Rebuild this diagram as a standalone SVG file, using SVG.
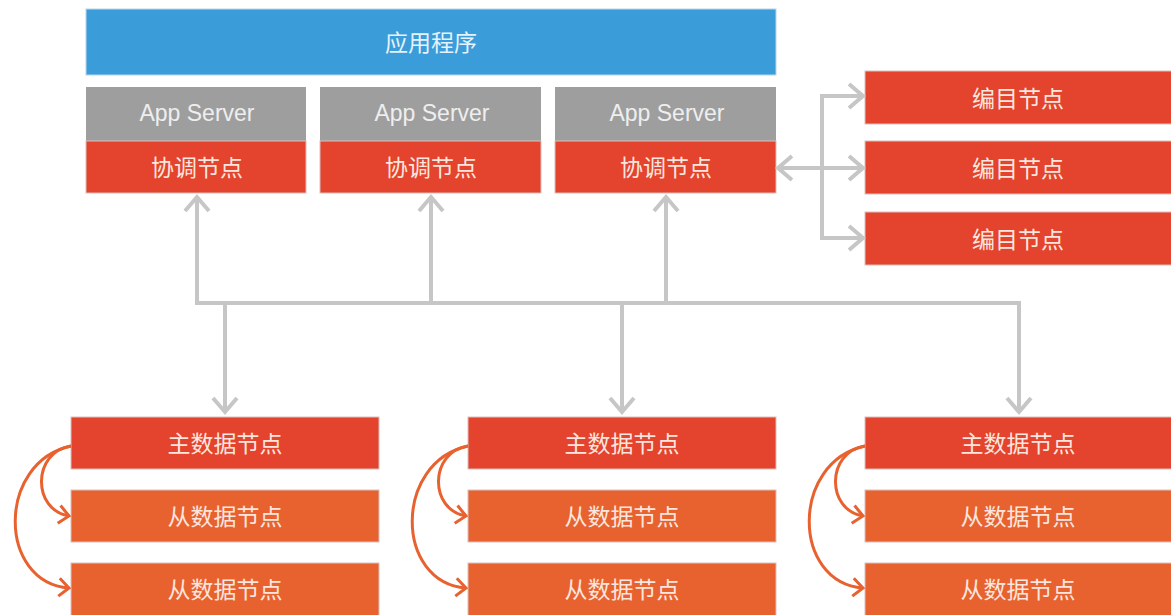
<svg xmlns="http://www.w3.org/2000/svg" width="1171" height="615" viewBox="0 0 1171 615">
<style>
.t{font-family:"Noto Sans CJK SC","Liberation Sans",sans-serif;font-size:23px;text-anchor:middle;dominant-baseline:central;fill:#fbe6df}
.en{font-family:"Liberation Sans","Noto Sans",sans-serif;font-size:23px;text-anchor:middle;dominant-baseline:central;fill:#eeeeee}
.red{fill:#e4432d;stroke:#d9c0bb;stroke-width:1}
.org{fill:#e8622f;stroke:#d9c0bb;stroke-width:1}
.gray{fill:#9e9e9e}
.con{fill:none;stroke:#c6c6c6;stroke-width:4}
.cur{fill:none;stroke:#e8622f;stroke-width:3}
</style>
<defs>
<marker id="ga" markerUnits="userSpaceOnUse" viewBox="-18 -16 22 32" markerWidth="22" markerHeight="32" refX="0" refY="0" orient="auto-start-reverse">
<path d="M-14,-12 L0,0 L-14,12" fill="none" stroke="#c6c6c6" stroke-width="4"/>
</marker>
<marker id="oa" markerUnits="userSpaceOnUse" viewBox="-14 -12 18 24" markerWidth="18" markerHeight="24" refX="0" refY="0" orient="auto">
<path d="M-10,-9 L0,0 L-10,9" fill="none" stroke="#e8622f" stroke-width="3"/>
</marker>
</defs>
<rect width="1171" height="615" fill="#ffffff"/>

<g id="app">
<rect x="86" y="9" width="690" height="66" fill="#3a9dda" stroke="#b9d6ea" stroke-width="1"/>
<text class="t" x="431" y="41" style="fill:#e6f2fb">应用程序</text>
</g>

<g id="server1">
<rect class="gray" x="86" y="87" width="220" height="54"/>
<text class="en" x="197" y="113">App Server</text>
<rect class="red" x="86" y="141" width="220" height="52"/>
<text class="t" x="197" y="166">协调节点</text>
</g>
<g id="server2">
<rect class="gray" x="320" y="87" width="221" height="54"/>
<text class="en" x="432" y="113">App Server</text>
<rect class="red" x="320" y="141" width="221" height="52"/>
<text class="t" x="431" y="166">协调节点</text>
</g>
<g id="server3">
<rect class="gray" x="555" y="87" width="221" height="54"/>
<text class="en" x="667" y="113">App Server</text>
<rect class="red" x="555" y="141" width="221" height="52"/>
<text class="t" x="666" y="166">协调节点</text>
</g>

<g id="catalog1">
<rect class="red" x="865" y="71" width="310" height="53"/>
<text class="t" x="1018" y="97">编目节点</text>
</g>
<g id="catalog2">
<rect class="red" x="865" y="141" width="310" height="53"/>
<text class="t" x="1018" y="167">编目节点</text>
</g>
<g id="catalog3">
<rect class="red" x="865" y="212" width="310" height="53"/>
<text class="t" x="1018" y="238">编目节点</text>
</g>

<g id="data1">
<rect class="red" x="71" y="417" width="308" height="52"/>
<text class="t" x="225" y="442">主数据节点</text>
<rect class="org" x="71" y="490" width="308" height="52"/>
<text class="t" x="225" y="515">从数据节点</text>
<rect class="org" x="71" y="563" width="308" height="55"/>
<text class="t" x="225" y="588">从数据节点</text>
</g>
<g id="data2">
<rect class="red" x="468" y="417" width="308" height="52"/>
<text class="t" x="622" y="442">主数据节点</text>
<rect class="org" x="468" y="490" width="308" height="52"/>
<text class="t" x="622" y="515">从数据节点</text>
<rect class="org" x="468" y="563" width="308" height="55"/>
<text class="t" x="622" y="588">从数据节点</text>
</g>
<g id="data3">
<rect class="red" x="865" y="417" width="310" height="52"/>
<text class="t" x="1018" y="442">主数据节点</text>
<rect class="org" x="865" y="490" width="310" height="52"/>
<text class="t" x="1018" y="515">从数据节点</text>
<rect class="org" x="865" y="563" width="310" height="55"/>
<text class="t" x="1018" y="588">从数据节点</text>
</g>

<g id="connectors">
<path class="con" d="M778,168 L863,168" marker-start="url(#ga)" marker-end="url(#ga)"/>
<path class="con" d="M863,96 L822,96 L822,238 L863,238" marker-start="url(#ga)" marker-end="url(#ga)"/>
<path class="con" d="M197,197 L197,303 L1019,303 L1019,412" marker-start="url(#ga)" marker-end="url(#ga)"/>
<path class="con" d="M431,197 L431,303" marker-start="url(#ga)"/>
<path class="con" d="M666,197 L666,303" marker-start="url(#ga)"/>
<path class="con" d="M225,303 L225,412" marker-end="url(#ga)"/>
<path class="con" d="M622,303 L622,412" marker-end="url(#ga)"/>

<path class="cur" d="M71,446 C32,452 32,510 69,516" marker-end="url(#oa)"/>
<path class="cur" d="M71,446 C-3,462 -3,582 69,588" marker-end="url(#oa)"/>
<path class="cur" d="M468,446 C429,452 429,510 466,516" marker-end="url(#oa)"/>
<path class="cur" d="M468,446 C394,462 394,582 466,588" marker-end="url(#oa)"/>
<path class="cur" d="M865,446 C826,452 826,510 863,516" marker-end="url(#oa)"/>
<path class="cur" d="M865,446 C791,462 791,582 863,588" marker-end="url(#oa)"/>
</g>
</svg>
